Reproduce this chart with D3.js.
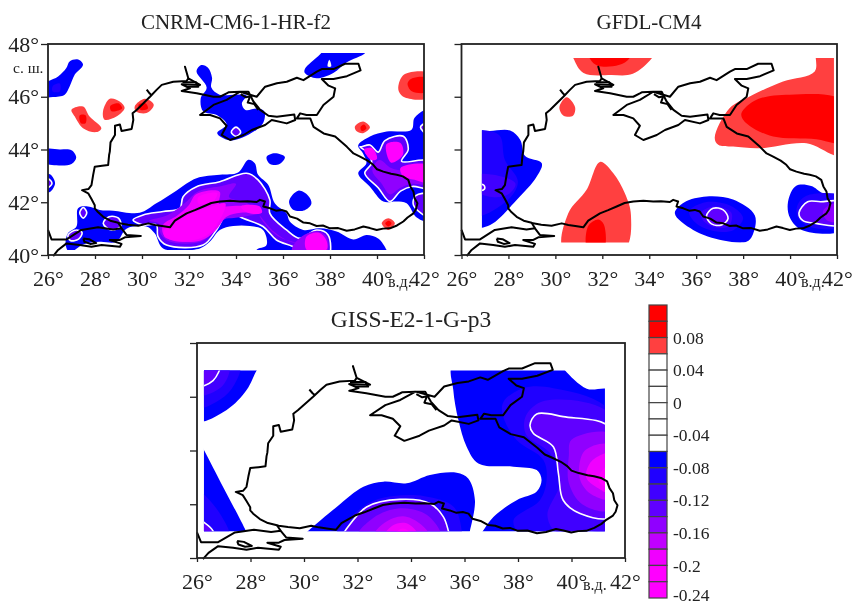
<!DOCTYPE html>
<html>
<head>
<meta charset="utf-8">
<script src="https://cdn.jsdelivr.net/npm/d3@7"></script>
<style>
  html, body { margin: 0; padding: 0; background: #fff; }
  svg { display: block; filter: blur(0.4px); }
  text { font-family: "Liberation Serif", serif; fill: #222; }
</style>
</head>
<body>
<svg id="chart" width="867" height="605"></svg>
<script>
const lonTicks = [26, 28, 30, 32, 34, 36, 38, 40, 42];
const latTicks = [40, 42, 44, 46, 48];

const legendTicks = [0.08, 0.04, 0, -0.04, -0.08, -0.12, -0.16, -0.2, -0.24];
const legendEdges = [0.12, 0.10, 0.08, 0.06, 0.04, 0.02, 0, -0.02, -0.04, -0.06, -0.08, -0.10, -0.12, -0.14, -0.16, -0.18, -0.20, -0.22, -0.24];
const legendColors = ['#ff0000', '#ff0000', '#ff4040', '#fff', '#fff', '#fff', '#fff', '#fff', '#fff',
  '#0000ff', '#2000ff', '#4000ff', '#6000ff', '#9000ff', '#c000ff', '#f000ff', '#ff00ff', '#ff00ff'];

// coastlines, [lon, lat]
const coastBlackSea = [[29.05,41.2],[28.99,41.22],[28.65,41.3],[28.35,41.45],[28.1,41.65],[27.99,41.77],[27.99,41.89],[27.85,42.12],[27.71,42.34],[27.45,42.46],[27.72,42.5],[27.85,42.65],[27.92,43.03],[27.99,43.35],[28.3,43.38],[28.56,43.41],[28.6,43.79],[28.63,43.92],[28.66,44.27],[28.85,44.55],[28.85,44.9],[29.06,44.95],[29.13,44.7],[29.56,44.78],[29.63,45.12],[29.6,45.37],[29.77,45.5],[30.34,46.0],[30.62,46.26],[30.84,46.45],[31.33,46.57],[31.9,46.6],[31.97,46.7],[31.83,47.14],[31.97,46.7],[32.47,46.45],[31.69,46.47],[32.04,46.32],[31.69,46.22],[32.33,46.13],[33.04,46.0],[33.32,46.0],[33.6,46.13],[33.68,46.17],[34.17,46.19],[33.6,45.88],[33.04,45.69],[32.47,45.31],[32.9,45.31],[33.32,45.18],[33.6,44.9],[33.39,44.55],[33.75,44.36],[34.32,44.55],[34.67,44.74],[35.24,44.93],[35.52,45.12],[36.16,44.99],[36.52,45.12],[36.48,45.33],[35.74,45.24],[35.38,45.28],[35.03,45.5],[34.74,45.82],[34.53,46.19],[34.17,46.19],[34.88,46.0],[35.24,46.38],[35.74,46.51],[36.16,46.57],[36.59,46.72],[36.87,46.63],[37.44,46.95],[37.65,47.05],[38.15,47.05],[38.64,47.25],[39.21,47.25],[39.3,47.0],[38.72,46.78],[38.15,46.67],[37.65,46.67],[37.94,46.42],[38.22,46.32],[38.15,46.0],[37.72,45.69],[37.44,45.31],[37.0,45.31],[36.73,45.37],[36.59,45.18],[37.16,45.18],[37.3,44.86],[37.73,44.61],[38.22,44.49],[38.72,44.1],[39.0,43.85],[39.28,43.73],[39.6,43.58],[39.84,43.42],[40.0,43.25],[40.27,43.16],[40.6,43.08],[40.84,43.04],[41.1,42.98],[41.33,42.85],[41.42,42.6],[41.55,42.41],[41.6,42.15],[41.72,41.96],[41.65,41.72],[41.55,41.58],[41.3,41.42],[41.12,41.27],[40.85,41.12],[40.55,41.01],[40.25,41.0],[39.99,40.95],[39.7,41.02],[39.42,41.08],[39.05,40.97],[38.71,40.92],[38.35,41.02],[38.0,41.01],[37.7,41.12],[37.43,41.1],[37.15,41.2],[36.87,41.23],[36.6,41.38],[36.3,41.46],[36.15,41.65],[35.94,41.71],[35.7,41.68],[35.45,41.77],[35.16,41.84],[35.23,42.03],[35.02,42.09],[34.88,42.01],[34.5,42.04],[34.17,42.03],[33.75,42.06],[33.32,42.03],[32.95,41.97],[32.61,41.84],[32.25,41.7],[31.9,41.58],[31.4,41.3],[31.19,41.05],[30.85,41.1],[30.55,41.14],[30.27,41.2],[29.84,41.11],[29.4,41.15],[29.05,41.2]];
const coastMarmara = [[26,40.95],[26.15,40.59],[26.79,40.59],[27.42,40.95],[28.13,41.05],[28.77,40.97],[29.13,41.01],[29.34,40.76],[29.95,40.72],[29.27,40.67],[29.06,40.57],[28.63,40.57],[29.13,40.42],[29.06,40.31],[28.28,40.38],[27.85,40.31],[27.35,40.38],[26.79,40.44],[26.43,40.19],[26.22,39.96]];
const coastBosphorus = [[28.99,41.22],[29.13,41.01]];
const coastIsland = [[27.5,40.63],[27.75,40.6],[28.05,40.45],[27.8,40.42],[27.55,40.5],[27.5,40.63]];
const coastLiman = [[30.2,46.27],[30.33,46.12],[30.42,46.05]];
const coastDelta = [[31.72,46.55],[32.3,46.55],[32.4,46.38],[31.9,46.38]];
const coastSivash = [[34.2,46.1],[34.42,45.98],[34.6,46.02],[34.5,45.78],[34.78,45.72],[34.95,45.5]];

// filled isolines, [cell mid value, ring of lon/lat]; -0.13 carries the white isoline
const cnrmRegions = [
  [-0.07, [[25.9,46.5],[26.43,46.77],[26.78,47.09],[26.92,47.34],[27.28,47.41],[27.49,47.22],[27.14,46.84],[26.92,46.39],[26.71,46.08],[26.21,45.99],[25.9,46.0]]],
  [-0.09, [[26.2,46.4],[26.5,46.5],[26.5,46.2],[26.2,46.2]]],
  [-0.07, [[25.9,44.0],[26.5,44.0],[27.0,43.97],[27.2,43.7],[27.0,43.45],[26.35,43.4],[25.9,43.5]]],
  [-0.07, [[25.9,43.05],[26.1,43.05],[26.3,42.72],[26.1,42.4],[25.9,42.4]]],
  [-0.13, [[25.8,42.9],[26.0,42.9],[26.17,42.72],[26.0,42.55],[25.8,42.55]]],
  [-0.07, [[32.32,46.96],[32.53,47.2],[32.81,47.1],[32.98,46.72],[32.95,46.35],[33.3,46.08],[34.0,46.08],[34.45,46.05],[34.25,45.75],[34.4,45.5],[34.9,45.55],[35.2,45.45],[35.15,45.0],[34.4,44.5],[33.74,44.35],[33.2,44.62],[33.6,44.95],[33.2,45.3],[32.6,45.45],[32.5,45.95],[32.75,46.35]]],
  [-0.13, [[33.8,44.66],[34,44.85],[34.2,44.66],[34,44.5]]],
  [-0.07, [[36.93,47.05],[37.57,47.6],[37.9,47.9],[39.6,47.9],[39.5,47.66],[38.7,47.3],[38.14,46.9],[37.43,46.7],[36.93,46.9]]],
  [-0.07, [[35.3,43.72],[35.65,43.86],[36.08,43.72],[35.85,43.45],[35.45,43.45]]],
  [-0.07, [[36.26,42.05],[36.65,42.44],[37.07,42.25],[37.21,41.95],[36.93,41.7],[36.43,41.72]]],
  [-0.07, [[26.85,40.82],[27.21,41.08],[27.28,41.77],[27.7,41.84],[28.2,41.71],[28.77,41.68],[29.9,41.6],[30.61,41.96],[31.46,42.44],[32.32,42.91],[33.31,43.04],[34.09,43.13],[34.52,43.61],[34.8,43.48],[34.94,43.04],[35.37,42.66],[35.65,41.96],[36.15,41.58],[36.29,41.27],[36.86,40.95],[37.57,41.01],[38.28,40.89],[38.99,40.59],[39.56,40.76],[40.05,40.63],[40.41,40.19],[40.5,39.9],[34.87,39.9],[34.87,40.19],[35.3,40.38],[35.15,40.95],[34.59,41.1],[33.88,41.1],[33.31,40.95],[32.88,40.5],[32.46,40.25],[30.9,40.25],[30.54,40.82],[30.19,41.08],[29.34,41.0],[28.91,40.5],[28.2,40.5],[27.49,40.4],[26.92,40.1],[26.75,40.4]]],
  [-0.13, [[27.35,41.6],[27.5,41.8],[27.65,41.6],[27.5,41.4]]],
  [-0.13, [[28.35,41.2],[28.6,41.45],[29.0,41.4],[29.1,41.1],[28.7,40.95]]],
  [-0.13, [[26.85,40.75],[27.2,40.95],[27.45,40.85],[27.3,40.6],[26.95,40.55]]],
  [-0.13, [[29.62,41.33],[30.05,41.52],[30.9,41.65],[31.61,41.77],[31.75,42.21],[32.32,42.59],[33.31,42.78],[34.45,43.1],[34.94,42.85],[35.44,42.09],[35.44,41.58],[36.15,40.95],[36.72,40.63],[37.43,40.95],[37.92,40.76],[37.92,39.9],[36.9,39.9],[36.57,40.25],[35.72,40.57],[35.15,41.08],[34.16,41.46],[33.88,41.71],[33.59,41.58],[33.17,40.95],[32.6,40.38],[31.04,40.38],[30.68,40.7],[30.61,41.14],[30.05,41.14]]],
  [-0.15, [[30.3,41.3],[31.1,41.52],[31.8,41.95],[32.4,42.42],[33.4,42.62],[34.0,42.7],[33.7,42.2],[34.4,42.0],[35.0,41.6],[34.6,41.5],[33.9,41.4],[33.5,41.35],[33.0,40.85],[32.5,40.5],[31.2,40.5],[30.8,40.8],[30.7,41.2]]],
  [-0.19, [[30.9,41.15],[31.5,41.5],[32.0,41.9],[32.3,42.3],[33.3,42.4],[33.3,41.9],[34.3,41.85],[34.9,41.65],[34.2,41.6],[33.6,41.45],[33.1,40.9],[32.5,40.55],[31.3,40.55],[30.9,40.8]]],
  [-0.21, [[31.2,41.1],[32,41.55],[33.0,41.85],[33.55,41.95],[33.15,41.1],[32.55,40.65],[31.4,40.55],[30.95,40.7],[30.95,40.95]]],
  [-0.21, [[32.4,42.2],[33.2,42.35],[33.0,42.0],[32.4,41.95]]],
  [-0.21, [[34.2,41.85],[35,41.85],[35.1,41.6],[34.5,41.6]]],
  [-0.15, [[35.0,41.5],[35.6,40.9],[36.3,40.5],[36.6,40.45],[35.8,40.7],[35.2,41.2]]],
  [-0.15, [[36.4,40.3],[36.8,40.7],[37.4,40.9],[37.85,40.7],[37.85,40.1],[36.4,40.1]]],
  [-0.21, [[37.0,40.2],[37.0,40.7],[37.5,40.85],[37.85,40.55],[37.85,40.2]]],
  [-0.07, [[39.2,44.15],[39.7,44.49],[40.41,44.68],[41.47,44.75],[41.6,45.2],[42.2,45.5],[42.2,41.3],[41.69,41.42],[41.26,41.96],[40.83,42.03],[40.27,42.03],[39.7,42.59],[39.2,43.1],[39.55,43.48],[39.4,43.86]]],
  [-0.13, [[39.34,44.1],[39.7,44.17],[40.05,43.9],[40.34,44.34],[41.12,44.5],[41.33,44.0],[41.05,43.55],[42.2,43.55],[42.2,42.55],[41.5,42.6],[41,42.42],[40.55,42.03],[40.05,42.55],[39.48,43.1],[39.77,43.48],[39.63,43.86],[39.27,44.1]]],
  [-0.13, [[42.2,42.3],[41.65,42.25],[41.55,41.9],[42.2,41.45]]],
  [-0.13, [[41.85,44.85],[42.1,45],[42.1,44.6]]],
  [-0.15, [[40.1,43.6],[40.6,43.3],[41.2,43.2],[42.2,43.35],[42.2,42.7],[41.5,42.7],[41,42.55],[40.55,42.3],[40.2,42.7],[39.8,43.2]]],
  [-0.21, [[39.45,44.0],[39.8,44.05],[40.0,43.65],[39.75,43.6]]],
  [-0.21, [[40.4,44.2],[41,44.25],[41.1,43.8],[40.6,43.5]]],
  [-0.21, [[41,43.3],[42.2,43.4],[42.2,42.75],[41.6,42.85],[41.1,43]]],
  [0.07, [[27.0,45.51],[27.49,45.63],[27.77,45.25],[28.27,44.81],[28.06,44.66],[27.49,44.81],[27.14,45.25]]],
  [0.09, [[27.35,45.3],[27.6,45.3],[27.6,45.0],[27.4,45.0]]],
  [0.07, [[28.34,45.44],[28.63,45.92],[29.05,45.82],[29.26,45.57],[28.91,45.25],[28.41,45.13]]],
  [0.09, [[28.65,45.65],[29,45.75],[29.15,45.55],[28.7,45.45]]],
  [0.07, [[29.69,45.63],[30.12,45.92],[30.5,45.7],[30.19,45.38],[29.75,45.44]]],
  [0.09, [[29.85,45.7],[30.15,45.75],[30.25,45.55],[29.95,45.5]]],
  [0.07, [[40.93,46.5],[41.19,46.86],[42.2,46.88],[42.2,45.97],[41.19,45.97],[40.93,46.2]]],
  [0.09, [[41.3,46.5],[41.5,46.7],[42.2,46.7],[42.2,46.2],[41.5,46.2]]],
  [0.07, [[39.06,44.87],[39.41,45.06],[39.7,44.84],[39.41,44.62],[39.12,44.7]]],
  [0.09, [[39.3,44.85],[39.45,44.95],[39.55,44.8],[39.35,44.7]]],
  [0.07, [[40.2,41.2],[40.48,41.39],[40.76,41.2],[40.48,40.95]]],
  [0.09, [[40.35,41.2],[40.5,41.3],[40.62,41.2],[40.48,41.08]]]
];
const cnrmHoles = [[[37.9,47.15],[38.05,47.15],[37.97,47.4]]];

const gfdlRegions = [
  [0.07, [[30.7,47.8],[34.3,47.8],[34.1,47.45],[33.3,46.87],[32.4,46.82],[31.2,46.9],[30.8,47.4]]],
  [0.09, [[31.4,47.8],[33.2,47.8],[33.15,47.45],[32.7,47.2],[31.8,47.18],[31.5,47.4]]],
  [0.07, [[30.17,45.6],[30.48,45.98],[30.84,45.6],[30.75,45.28],[30.35,45.28]]],
  [0.07, [[31.9,43.53],[32.47,43.1],[32.96,42.34],[33.22,41.52],[32.94,40.2],[30.35,40.2],[30.55,41.58],[31.33,42.47]]],
  [0.09, [[31.38,40.2],[31.4,41.1],[31.83,41.35],[32.07,41.15],[32.05,40.2]]],
  [0.07, [[36.79,44.45],[37.43,45.57],[38.28,46.01],[39.7,46.58],[41.05,46.96],[41.15,47.8],[42.2,47.8],[42.2,43.8],[40.7,44.24],[38.71,44.05],[37.57,44.11],[36.94,44.18]]],
  [0.09, [[37.93,45.38],[38.57,45.89],[39.99,46.08],[42.2,45.85],[42.2,44.28],[41.12,44.39],[39.28,44.49],[38.43,44.81],[38.0,45.13]]],
  [-0.07, [[26.5,44.68],[27.2,44.7],[28.07,44.72],[28.5,44.37],[28.71,43.75],[29.42,43.48],[29.2,42.97],[28.35,42.09],[27.22,41.14],[26.5,41.08]]],
  [-0.09, [[26.5,44.6],[27.6,44.55],[27.85,43.6],[28.4,42.8],[28.1,42.2],[26.9,41.5],[26.5,41.5]]],
  [-0.11, [[26.5,43],[27.6,43],[28.3,42.7],[28.0,42.3],[27.3,42.2],[26.5,42.5]]],
  [-0.13, [[26.6,42.65],[26.95,42.65],[26.98,42.5],[26.6,42.43]]],
  [-0.07, [[35.09,41.58],[35.5,42.0],[36.44,42.22],[37.57,42.1],[38.5,41.5],[38.4,40.75],[38.14,40.5],[37.15,40.55],[35.87,40.95]]],
  [-0.09, [[35.7,41.65],[36.4,42.0],[37.5,41.85],[38,41.4],[37.6,40.95],[36.8,40.9],[36,41.2]]],
  [-0.11, [[36.2,41.6],[36.8,41.85],[37.5,41.6],[37.4,41.1],[36.8,41.05],[36.3,41.3]]],
  [-0.13, [[36.44,41.48],[36.72,41.77],[37.15,41.71],[37.36,41.39],[37.08,41.14],[36.65,41.18]]],
  [-0.07, [[39.91,42.0],[40.25,42.62],[40.9,42.62],[41.4,42.35],[42.2,42.25],[42.2,40.95],[40.5,40.95],[40.0,41.4]]],
  [-0.09, [[40.3,41.85],[40.7,42.25],[42.2,42.2],[42.2,41.1],[40.9,41.05],[40.35,41.4]]],
  [-0.13, [[40.38,41.6],[40.75,42.02],[41.3,42.02],[42.2,42.0],[42.2,41.15],[41.1,41.2],[40.55,41.3]]],
  [-0.15, [[41.4,41.65],[41.85,41.95],[42.2,41.9],[42.2,41.3],[41.6,41.3]]]
];

const gissRegions = [
  [-0.07, [[26,47.2],[28.4,47.2],[28.23,46.98],[27.86,46.26],[27.11,45.51],[26,45.1]]],
  [-0.09, [[26,47.2],[27.6,47.2],[27.3,46.3],[26.7,45.8],[26,45.6]]],
  [-0.11, [[26,47.2],[27.2,47.2],[26.95,46.4],[26,46.05]]],
  [-0.13, [[26,47.2],[26.85,47.2],[26.6,46.6],[26,46.4]]],
  [-0.07, [[26,44.5],[26.26,44.02],[27.0,42.6],[27.83,41.0],[27.9,40.8],[26,40.8]]],
  [-0.09, [[26,42.5],[26.6,42],[27.2,41],[27.2,40.8],[26,40.8]]],
  [-0.13, [[26,41.45],[26.3,41.3],[26.6,41],[26.6,40.8],[26,40.8]]],
  [-0.07, [[29.9,40.8],[30.14,41.0],[31.22,41.9],[32.22,42.65],[32.97,42.84],[33.84,42.78],[34.71,43.09],[35.71,43.17],[36.14,42.96],[36.39,42.15],[36.2,41.0],[36.15,40.8]]],
  [-0.09, [[31.2,40.8],[32.2,41.9],[33.0,42.25],[34.5,42.3],[35.6,41.9],[35.9,41],[35.9,40.8]]],
  [-0.13, [[31.4,40.8],[31.53,41],[32.34,41.9],[33.59,42.18],[34.71,42.03],[35.21,41.53],[35.4,41],[35.45,40.8]]],
  [-0.15, [[32.0,40.8],[32.6,41.5],[33.6,41.85],[34.6,41.6],[35.1,40.8]]],
  [-0.17, [[32.6,40.8],[33.0,41.3],[33.7,41.55],[34.3,41.3],[34.7,40.8]]],
  [-0.19, [[33,40.8],[33.3,41.2],[33.8,41.3],[34.2,41],[34.3,40.8]]],
  [-0.21, [[33.3,40.8],[33.7,41.1],[34.1,40.8]]],
  [-0.07, [[35.58,47.2],[39.6,47.2],[39.76,46.98],[40.57,46.3],[41.5,46.2],[41.5,40.8],[36.55,40.8],[36.68,41.0],[37.08,41.53],[37.95,42.15],[38.7,42.47],[38.88,42.9],[38.7,43.27],[37.83,43.4],[36.52,43.52],[36.08,44.14],[35.77,45.14],[35.58,46.26]]],
  [-0.09, [[37.45,45.8],[38.2,46.32],[39.32,46.32],[41.5,45.4],[41.5,40.8],[38.2,40.8],[37.83,41.4],[38.82,42.15],[39.07,42.9],[38.95,43.65],[37.95,44.39],[37.45,45.26]]],
  [-0.11, [[38.3,45.3],[39,45.85],[41.5,45.3],[41.5,41.1],[40.5,41.0],[39.4,41.0],[39.1,41.6],[39.6,42.9],[39.2,43.9],[38.3,44.6]]],
  [-0.13, [[38.45,44.95],[38.7,45.36],[39.69,45.26],[41.5,44.8],[41.5,41.55],[40.32,41.66],[39.69,42.15],[39.51,43.15],[39.32,44.14],[38.57,44.64]]],
  [-0.15, [[40.0,44.4],[41.5,44.6],[41.5,41.8],[40.4,42],[39.9,42.8],[39.9,43.8]]],
  [-0.17, [[40.5,44.0],[41.5,44.2],[41.5,42.2],[40.7,42.4],[40.3,43.0]]],
  [-0.19, [[40.75,43.6],[41.5,43.9],[41.5,42.4],[41,42.6],[40.55,43.0]]],
  [-0.21, [[41.0,43.0],[41.5,43.55],[41.5,42.65],[41.1,42.75]]]
];

const svg = d3.select('#chart');

const fillOf = d3.scaleThreshold()
  .domain(legendEdges.slice(1, -1).reverse())
  .range(legendColors.slice().reverse());

const drawPanel = (p, idx) => {
  const x = d3.scaleLinear().domain([26, 42]).range([p.left, p.right]);
  const y = d3.scaleLinear().domain([40, 48]).range([p.bottom, p.top]);
  const g = svg.append('g');

  const clipId = `data-${idx}`;
  g.append('clipPath').attr('id', clipId).append('rect')
    .attr('x', x(p.bounds[0])).attr('width', x(p.bounds[2]) - x(p.bounds[0]))
    .attr('y', y(p.bounds[3])).attr('height', y(p.bounds[1]) - y(p.bounds[3]));

  const ring = d3.line().x(d => x(d[0])).y(d => y(d[1])).curve(d3.curveCatmullRomClosed.alpha(0.5));
  const path = d3.line().x(d => x(d[0])).y(d => y(d[1]));

  const fields = g.append('g').attr('clip-path', `url(#${clipId})`);
  fields.selectAll('path.region').data(p.regions).enter().append('path')
    .attr('class', 'region')
    .attr('d', d => ring(d[1]))
    .attr('fill', d => fillOf(d[0]))
    .attr('stroke', d => d[0] === -0.13 ? '#fff' : 'none')
    .attr('stroke-width', 1.6);
  fields.selectAll('path.hole').data(p.holes || []).enter().append('path')
    .attr('class', 'hole').attr('d', ring).attr('fill', '#fff');

  g.selectAll('path.coast').data([coastBlackSea, coastMarmara, coastBosphorus, coastIsland, coastLiman, coastDelta, coastSivash]).enter().append('path')
    .attr('class', 'coast')
    .attr('d', path)
    .attr('fill', 'none').attr('stroke', '#000').attr('stroke-width', 2)
    .attr('stroke-linejoin', 'round');

  g.append('rect')
    .attr('x', p.left).attr('y', p.top)
    .attr('width', p.right - p.left).attr('height', p.bottom - p.top)
    .attr('fill', 'none').attr('stroke', '#222').attr('stroke-width', 1.8);

  const xAxis = g.append('g').attr('transform', `translate(0,${p.bottom})`)
    .call(d3.axisBottom(x).tickValues(lonTicks).tickSize(4).tickPadding(11.4).tickFormat(d => `${d}°`));
  const yAxis = g.append('g').attr('transform', `translate(${p.left},0)`)
    .call(d3.axisLeft(y).tickValues(latTicks).tickSize(7).tickPadding(2).tickFormat(d => p.latLabels ? `${d}°` : ''));
  [xAxis, yAxis].forEach(a => {
    a.select('.domain').remove();
    a.selectAll('line').attr('stroke', '#222').attr('stroke-width', 1.3);
    a.selectAll('text').attr('font-size', 22).attr('font-family', '"Liberation Serif", serif').attr('fill', '#222');
  });

  g.append('text').attr('x', p.titleX).attr('y', p.titleY)
    .attr('text-anchor', 'middle').attr('font-size', p.titleSize).text(p.title);
  g.append('text').attr('x', p.eastX).attr('y', p.bottom + 31.5)
    .attr('font-size', 16).text('в.д.');
};

const panels = [
  { title: 'CNRM-CM6-1-HR-f2', left: 48, right: 424, top: 44, bottom: 255, titleX: 236, titleY: 28.5, titleSize: 21, eastX: 388, bounds: [26, 40.19, 42, 47.66], regions: cnrmRegions, holes: cnrmHoles, latLabels: true },
  { title: 'GFDL-CM4', left: 461.5, right: 837, top: 44, bottom: 255, titleX: 649, titleY: 28.5, titleSize: 21, eastX: 801, bounds: [26.87, 40.47, 41.87, 47.47], regions: gfdlRegions },
  { title: 'GISS-E2-1-G-p3', left: 197, right: 625, top: 343, bottom: 558, titleX: 411, titleY: 327, titleSize: 23.5, eastX: 583, bounds: [26.26, 41.0, 41.25, 46.98], regions: gissRegions }
];
panels.forEach(drawPanel);

svg.append('text').attr('x', 13).attr('y', 73).attr('font-size', 15.5).text('с. ш.');

// colour bar
const legendY = d3.scaleLinear().domain([0.12, -0.24]).range([305, 598]);
const legend = svg.append('g');
legend.selectAll('rect').data(legendColors).enter().append('rect')
  .attr('x', 649)
  .attr('width', 18)
  .attr('y', (d, i) => legendY(legendEdges[i]))
  .attr('height', (d, i) => legendY(legendEdges[i + 1]) - legendY(legendEdges[i]))
  .attr('fill', d => d)
  .attr('stroke', '#444').attr('stroke-width', 1.2);
const legendAxis = legend.append('g').attr('transform', 'translate(667,0)')
  .call(d3.axisRight(legendY).tickValues(legendTicks).tickSize(0).tickPadding(6).tickFormat(d => String(d)));
legendAxis.select('.domain').remove();
legendAxis.selectAll('text').attr('font-size', 17.5).attr('font-family', '"Liberation Serif", serif').attr('fill', '#222');
// keep the last label inside the page
legendAxis.selectAll('.tick').filter(d => d === -0.24).select('text').attr('dy', '0.12em');
</script>
</body>
</html>
